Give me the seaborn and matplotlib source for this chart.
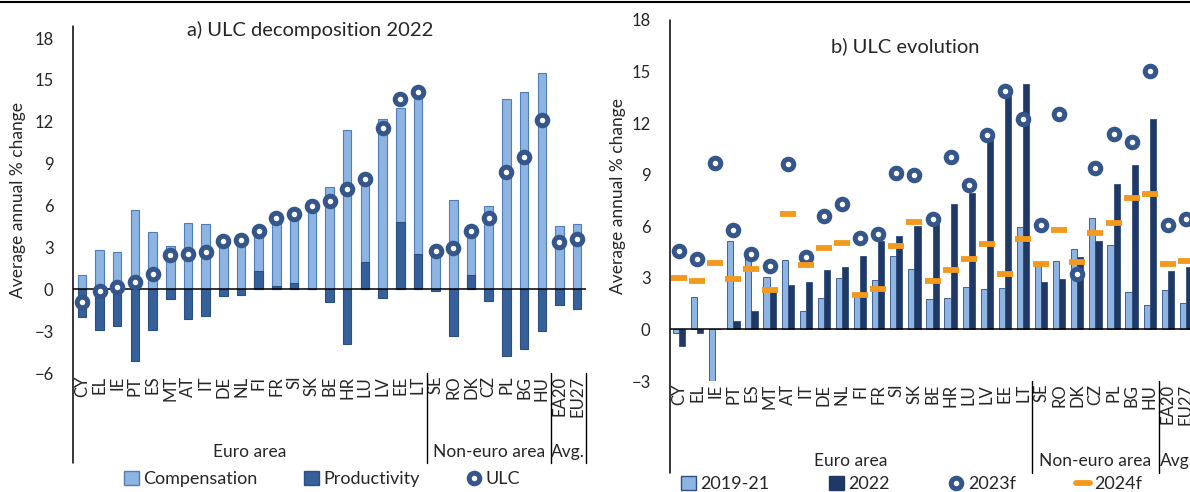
import numpy as np
import pandas as pd
import matplotlib
matplotlib.use("Agg")
import matplotlib.pyplot as plt
import matplotlib.transforms as mtransforms
from matplotlib.lines import Line2D
from matplotlib.patches import Patch
import seaborn as sns

# ---------------- data ----------------
countries = ["CY", "EL", "IE", "PT", "ES", "MT", "AT", "IT", "DE", "NL", "FI", "FR", "SI", "SK",
             "BE", "HR", "LU", "LV", "EE", "LT", "SE", "RO", "DK", "CZ", "PL", "BG", "HU",
             "EA20", "EU27"]
group_names = ["Euro area", "Non-euro area", "Avg."]
group_sizes = [20, 7, 2]

# panel a) ULC decomposition 2022
compensation = [1.05, 2.8, 2.7, 5.7, 4.1, 3.1, 4.75, 4.7, 3.5, 3.6, 4.3, 5.2, 5.45, 6.0,
                7.3, 11.4, 7.9, 12.2, 12.95, 14.1, 2.7, 6.4, 4.2, 6.0, 13.6, 14.1, 15.5,
                4.5, 4.7]
productivity = [-2.0, -2.95, -2.65, -5.15, -2.95, -0.7, -2.1, -1.95, -0.45, -0.4, 1.3, 0.2,
                0.45, 0.05, -0.9, -3.9, 1.95, -0.6, 4.85, 2.5, -0.12, -3.35, 1.05, -0.85,
                -4.8, -4.25, -3.0, -1.1, -1.4]
ulc = [-0.9, -0.15, 0.15, 0.55, 1.1, 2.45, 2.55, 2.7, 3.45, 3.55, 4.2, 5.1, 5.4, 6.0,
       6.35, 7.2, 7.9, 11.55, 13.6, 14.15, 2.75, 2.95, 4.2, 5.1, 8.4, 9.5, 12.1, 3.4, 3.6]

# panel b) ULC evolution
ulc_2019_21 = [-0.18, 1.86, -3.4, 5.12, 4.2, 3.06, 4.02, 1.08, 1.84, 3.0, 2.0, 2.88, 4.25,
               3.49, 1.78, 1.82, 2.47, 2.33, 2.41, 5.94, 3.7, 3.98, 4.65, 6.49, 4.92, 2.2,
               1.45, 2.31, 1.53]
ulc_2022 = [-0.96, -0.2, 0.05, 0.49, 1.06, 2.35, 2.59, 2.73, 3.45, 3.61, 4.25, 5.16, 5.45,
            6.0, 6.25, 7.27, 7.96, 11.2, 13.6, 14.3, 2.73, 2.96, 4.24, 5.14, 8.45, 9.55,
            12.22, 3.39, 3.61]
ulc_2023f = [4.59, 4.08, 9.67, 5.78, 4.37, 3.69, 9.63, 4.24, 6.57, 7.27, 5.31, 5.55, 9.08,
             8.98, 6.41, 10.02, 8.39, 11.29, 13.86, 12.25, 6.06, 12.53, 3.24, 9.37, 11.39,
             10.92, 15.04, 6.1, 6.43]
ulc_2024f = [3.0, 2.84, 3.86, 2.96, 3.53, 2.27, 6.69, 3.73, 4.75, 5.0, 1.98, 2.37, 4.86,
             6.24, 2.84, 3.47, 4.08, 4.98, 3.22, 5.24, 3.8, 5.78, 3.9, 5.63, 6.2, 7.67,
             7.86, 3.82, 4.0]
periods = ["2019-21", "2022"]

# ---------------- style ----------------
sns.set_style("white")
plt.rcParams["font.family"] = ["Lato", "DejaVu Sans"]

LIGHT = "#8DB4E2"
LIGHT_EDGE = "#4F7EBB"
DARK_A = "#35609A"
DARK_B = "#1F3864"
NAVY = "#34568B"
ORANGE = "#F39A1E"

W, H = 1190, 492
fig = plt.figure(figsize=(W / 100, H / 100), dpi=100)


def fx(px):
    return px / W


def fy(py):
    return 1 - py / H


axa = fig.add_axes([fx(73), fy(373), fx(586 - 73), fy(38) - fy(373)])
axb = fig.add_axes([fx(670), fy(381), fx(525), fy(20) - fy(381)])

MK_SIZE = 7.6
MK_LW = 3.6

# ---- panel a ----
sns.barplot(x=countries, y=compensation, order=countries, color=LIGHT, width=0.48,
            edgecolor=LIGHT_EDGE, linewidth=0.8, saturation=1, ax=axa, zorder=2)
sns.barplot(x=countries, y=productivity, order=countries, color=DARK_A, width=0.48,
            edgecolor="#2B4F80", linewidth=0.8, saturation=1, ax=axa, zorder=3)
sns.stripplot(x=countries, y=ulc, order=countries, jitter=False, color="white",
              edgecolor=NAVY, linewidth=MK_LW, size=MK_SIZE, ax=axa, zorder=6)
axa.set_ylim(-6, 18)
axa.set_yticks(np.arange(-6, 19, 3))

# ---- panel b ----
dfb = pd.DataFrame({
    "country": countries * 2,
    "period": [periods[0]] * len(countries) + [periods[1]] * len(countries),
    "value": ulc_2019_21 + ulc_2022,
})
sns.barplot(data=dfb, x="country", y="value", hue="period", order=countries,
            hue_order=periods, palette=[LIGHT, DARK_B], width=0.68, dodge=True,
            edgecolor="#2F4F80", linewidth=0.6, saturation=1, legend=False, ax=axb,
            zorder=2)
sns.stripplot(x=countries, y=ulc_2023f, order=countries, jitter=False, color="white",
              edgecolor=NAVY, linewidth=MK_LW, size=MK_SIZE, ax=axb, zorder=6)
sns.pointplot(x=countries, y=ulc_2024f, order=countries, color=ORANGE, marker="_",
              markersize=11, markeredgewidth=4.2, linestyle="none", errorbar=None,
              ax=axb, zorder=7)
axb.set_ylim(-3, 18)
axb.set_yticks(np.arange(-3, 19, 3))

# ---- common axis decoration ----
for ax, ext_bot, ext_top, grp_y in [(axa, 0.27, 0.035, -0.236), (axb, 0.255, 0.0, -0.222)]:
    ax.set_xlim(-0.5, len(countries) - 0.5)
    ax.set_xlabel("")
    ax.set_ylabel("")
    for s in ["top", "right", "bottom", "left"]:
        ax.spines[s].set_visible(False)
    ax.axhline(0, color="black", lw=1.1, zorder=4)
    ax.tick_params(axis="y", length=0, labelsize=12, pad=14)
    ax.tick_params(axis="x", length=0, labelsize=12, pad=2, labelrotation=90)
    for lab in ax.get_yticklabels():
        lab.set_horizontalalignment("right")
    ax.grid(False)
    # left axis line extending through the label area
    ax.add_line(Line2D([0, 0], [-ext_bot, 1 + ext_top], transform=ax.transAxes,
                       color="black", lw=1.1, clip_on=False))
    trans = mtransforms.blended_transform_factory(ax.transData, ax.transAxes)
    start = 0
    for name, n in zip(group_names, group_sizes):
        end = start + n
        ax.add_line(Line2D([end - 0.5, end - 0.5], [0, -ext_bot], transform=trans,
                           color="black", lw=1.0, clip_on=False))
        ax.text((start + end - 1) / 2, grp_y, name, transform=trans, ha="center",
                va="center", fontsize=12.5)
        start = end

# titles and labels
fig.text(fx(310), fy(30), "a) ULC decomposition 2022", ha="center", va="center",
         fontsize=14.5)
fig.text(fx(905), fy(46), "b) ULC evolution", ha="center", va="center", fontsize=14.5)
fig.text(fx(18), fy(200), "Average annual % change", rotation=90, ha="center",
         va="center", fontsize=12.5)
fig.text(fx(618), fy(196), "Average annual % change", rotation=90, ha="center",
         va="center", fontsize=12.5)

# top border line
fig.add_artist(Line2D([0, 1], [fy(1.5), fy(1.5)], color="black", lw=1.5,
                      transform=fig.transFigure))

# legends
ulc_handle = Line2D([], [], marker="o", linestyle="none", markerfacecolor="white",
                    markeredgecolor=NAVY, markeredgewidth=MK_LW, markersize=MK_SIZE)
hand_a = [Patch(facecolor=LIGHT, edgecolor=LIGHT_EDGE),
          Patch(facecolor=DARK_A, edgecolor="#2B4F80"), ulc_handle]
fig.legend(hand_a, ["Compensation", "Productivity", "ULC"], loc="center",
           bbox_to_anchor=(fx(322), fy(479)), ncol=3, frameon=False, fontsize=13,
           handlelength=0.8, handleheight=0.8, handletextpad=0.25, columnspacing=2.6,
           borderpad=0, borderaxespad=0)

hand_b = [Patch(facecolor=LIGHT, edgecolor="#2F4F80"),
          Patch(facecolor=DARK_B, edgecolor=DARK_B),
          Line2D([], [], marker="o", linestyle="none", markerfacecolor="white",
                 markeredgecolor=NAVY, markeredgewidth=MK_LW, markersize=MK_SIZE),
          Line2D([], [], color=ORANGE, lw=4.2)]
fig.legend(hand_b, ["2019-21", "2022", "2023f", "2024f"], loc="center",
           bbox_to_anchor=(fx(912), fy(484)), ncol=4, frameon=False, fontsize=13,
           handlelength=0.8, handleheight=0.8, handletextpad=0.25, columnspacing=3.3,
           borderpad=0, borderaxespad=0)

fig.savefig("out.png", dpi=100)
